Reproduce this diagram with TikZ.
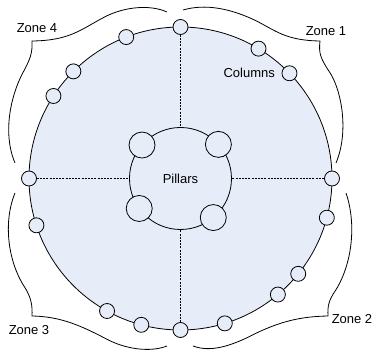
\documentclass[tikz,border=0pt]{standalone}
\usepackage{fontspec}
\setmainfont{Liberation Sans}
\definecolor{floorblue}{RGB}{230,236,248}
\usetikzlibrary{positioning}

\begin{document}
\begin{tikzpicture}[x=1pt,y=1pt,line width=0.8pt,
  column/.style={circle,draw,fill=floorblue,minimum size=15pt,inner sep=0pt},
  pillar/.style={circle,draw,fill=floorblue,minimum size=26pt,inner sep=0pt},
  axis line/.style={dash pattern=on 2pt off 1.2pt,line width=0.6pt},
  label/.style={font=\fontsize{13}{15}\selectfont}]
  \useasboundingbox (-180.5,-177.5) rectangle (192.5,178.5);
  % Floor and core
  \node[circle,draw,fill=floorblue,minimum size=303pt,inner sep=0pt] (floor) at (0,0) {};
  \node[circle,draw,fill=floorblue,minimum size=102pt,inner sep=0pt,label] (core) at (0,0) {Pillars};
  \foreach \a in {42,139,216,310}
    \node[pillar] (p\a) at (\a:51) {};
  % Columns on the rim
  \foreach \a in {0,44,59,90,111,135,147,180,198,241,255,270,287,310,321,345}
    \node[column] (c\a) at (\a:151.5) {};
  \node[label,left=3pt of c44] (cols) {Columns};
  % Axes
  \draw[axis line] (c90) -- (core);
  \draw[axis line] (c270) -- (core);
  \draw[axis line] (c0) -- (core);
  \draw[axis line] (c180) -- (core);
  % Zone braces
  \draw (2.5,168.5) .. controls (25,175) and (50,170) .. (75,158)
    .. controls (95,148) and (105,138) .. (139.5,137.5)
    .. controls (138,125) and (140,120) .. (150,105)
    .. controls (162,85) and (168,45) .. (155.5,15.5);
  \draw (-13.5,166.5) .. controls (-30,174) and (-55,172) .. (-75,162)
    .. controls (-100,149) and (-110,138) .. (-148.5,137.5)
    .. controls (-148,125) and (-150,120) .. (-158,105)
    .. controls (-170,82) and (-178,45) .. (-165.5,15.5);
  \draw (-165.5,-14.5) .. controls (-178,-45) and (-172,-85) .. (-155,-110)
    .. controls (-149,-120) and (-148,-128) .. (-148.5,-137.5)
    .. controls (-120,-138) and (-100,-147) .. (-75,-160)
    .. controls (-55,-171) and (-30,-174) .. (-13.5,-167.5);
  \draw (165.5,-14.5) .. controls (176,-45) and (172,-85) .. (155,-112)
    .. controls (148,-122) and (147,-128) .. (147.5,-137.5)
    .. controls (120,-138) and (100,-143) .. (75,-155)
    .. controls (50,-168) and (30,-174) .. (12.5,-167.5);
  \node[label] (z1) at (145.5,147.5) {Zone 1};
  \node[label] (z2) at (171.5,-140.5) {Zone 2};
  \node[label] (z3) at (-151.5,-151.5) {Zone 3};
  \node[label] (z4) at (-143.5,150.5) {Zone 4};
\end{tikzpicture}
\end{document}
